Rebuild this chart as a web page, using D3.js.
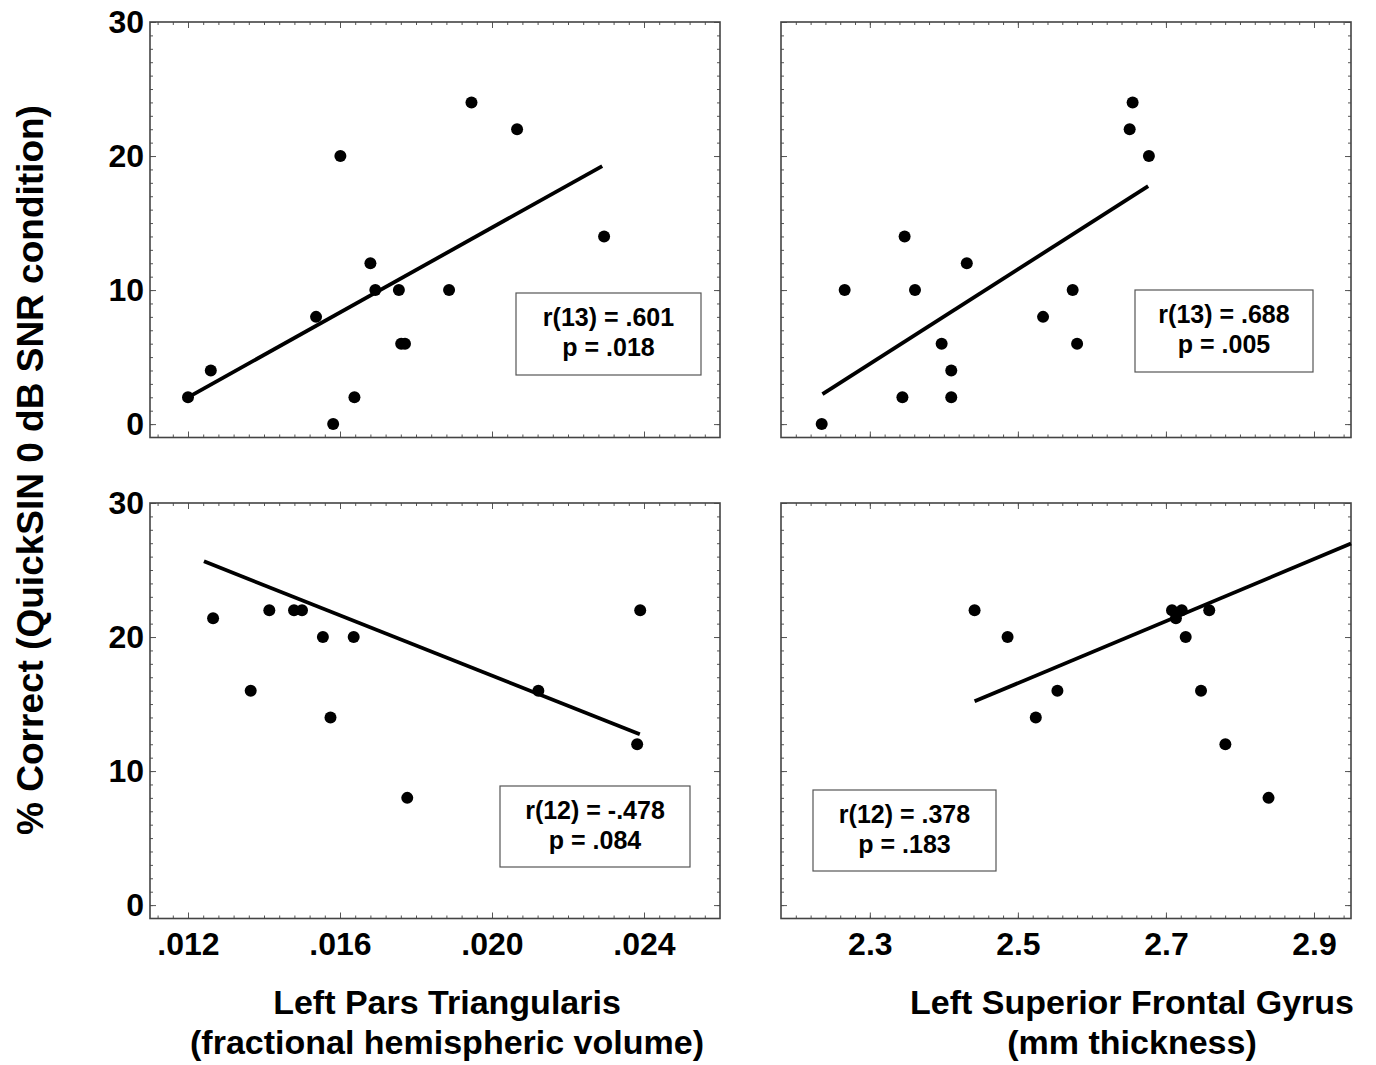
<!DOCTYPE html>
<html>
<head>
<meta charset="utf-8">
<script src="https://cdn.jsdelivr.net/npm/d3@7"></script>
<style>
  body { margin: 0; background: #fff; }
  text { font-family: "Liberation Sans", Arial, sans-serif; font-weight: bold; }
</style>
</head>
<body>
<svg id="chart" width="1376" height="1065"></svg>
<script>
// top row: 15 subjects, bottom row: 14 (some overlap)
var ptX_top = [.0120, .0126, .01537, .01601, .01582, .01638, .0168, .01693, .01755, .01761, .01771, .01887, .01946, .02066, .02295]
var ptY_top = [2, 4, 8, 20, 0, 2, 12, 10, 10, 6, 6, 10, 24, 22, 14]
var sfgX_top = [2.235, 2.266, 2.347, 2.344, 2.361, 2.397, 2.410, 2.410, 2.431, 2.534, 2.574, 2.580, 2.651, 2.655, 2.677]
var sfgY_top = [0, 10, 14, 2, 10, 6, 4, 2, 12, 8, 10, 6, 22, 24, 20]

var ptX_bot = [.01266, .01365, .01414, .01479, .01500, .01555, .01575, .01636, .01777, .02122, .02382, .0239]
var ptY_bot = [21.4, 16, 22, 22, 22, 20, 14, 20, 8, 16, 12, 22]
var sfgX_bot = [2.4415, 2.4861, 2.5242, 2.5534, 2.7082, 2.7214, 2.7135, 2.7267, 2.7585, 2.7474, 2.7803, 2.8386]
var sfgY_bot = [22, 20, 14, 16, 22, 22, 21.4, 20, 22, 16, 12, 8]

// fitted lines as drawn: [x0, y0, x1, y1]
var fitPtTop = [.0120, 2.0, .0229, 19.25]
var fitSfgTop = [2.236, 2.24, 2.676, 17.75]
var fitPtBot = [.01242, 25.65, .02389, 12.74]
var fitSfgBot = [2.4415, 15.2, 2.95, 26.97]

var statR = ["r(13) = .601", "r(13) = .688", "r(12) = -.478", "r(12) = .378"]
var statP = ["p = .018", "p = .005", "p = .084", "p = .183"]

var ptTicks = [.012, .016, .020, .024]
var sfgTicks = [2.3, 2.5, 2.7, 2.9]
var yTicks = [0, 10, 20, 30]

var pw = 570, ph = 415.5

var svg = d3.select("#chart")
svg.append("rect").attr("width", 1376).attr("height", 1065).attr("fill", "white")

var panels = [
    { left: 150, top: 22, xs: ptX_top, ys: ptY_top, fit: fitPtTop, dom: [.011, .026], step: .0004, major: ptTicks, labelsX: false, labelsY: true, box: [366, 271, 185, 82] },
    { left: 781, top: 22, xs: sfgX_top, ys: sfgY_top, fit: fitSfgTop, dom: [2.18, 2.95], step: .02, major: sfgTicks, labelsX: false, labelsY: false, box: [354, 268, 178, 82] },
    { left: 150, top: 503, xs: ptX_bot, ys: ptY_bot, fit: fitPtBot, dom: [.011, .026], step: .0004, major: ptTicks, labelsX: true, labelsY: true, box: [350, 283, 190, 81] },
    { left: 781, top: 503, xs: sfgX_bot, ys: sfgY_bot, fit: fitSfgBot, dom: [2.18, 2.95], step: .02, major: sfgTicks, labelsX: true, labelsY: false, box: [32, 287, 183, 81] }
]

function minorTicks(dom, step) {
    var out = []
    var k0 = Math.ceil(dom[0] / step + 1e-6), k1 = Math.floor(dom[1] / step - 1e-6)
    for (var k = k0; k <= k1; k++) out.push(+(k * step).toFixed(6))
    return out
}

panels.forEach(function (p, i) {
    var g = svg.append("g").attr("transform", "translate(" + p.left + "," + p.top + ")")

    var x = d3.scaleLinear().domain(p.dom).range([0, pw])
    var y = d3.scaleLinear().domain([-1, 30]).range([ph, 0])

    var xMinor = minorTicks(p.dom, p.step)
    var yMinor = d3.range(0, 30)

    function clean(sel) {
        sel.select(".domain").remove()
        sel.attr("color", "#555").attr("font-size", null).attr("font-family", null)
    }

    // minor ticks on all four sides, pointing inward
    g.append("g").attr("transform", "translate(0," + ph + ")")
        .call(d3.axisBottom(x).tickValues(xMinor).tickSize(-3).tickFormat("")).call(clean)
    g.append("g")
        .call(d3.axisTop(x).tickValues(xMinor).tickSize(-3).tickFormat("")).call(clean)
    g.append("g")
        .call(d3.axisLeft(y).tickValues(yMinor).tickSize(-3).tickFormat("")).call(clean)
    g.append("g").attr("transform", "translate(" + pw + ",0)")
        .call(d3.axisRight(y).tickValues(yMinor).tickSize(-3).tickFormat("")).call(clean)

    // major ticks
    var xb = g.append("g").attr("transform", "translate(0," + ph + ")")
        .call(d3.axisBottom(x).tickValues(p.major).tickSize(-6).tickPadding(14)
            .tickFormat(p.dom[0] < 1 ? function (d) { return d3.format(".3f")(d).replace(/^0/, "") } : d3.format(".1f")))
        .call(clean)
    if (!p.labelsX) xb.selectAll("text").remove()
    g.append("g")
        .call(d3.axisTop(x).tickValues(p.major).tickSize(-6).tickFormat("")).call(clean)
    var yl = g.append("g")
        .call(d3.axisLeft(y).tickValues(yTicks).tickSize(-6).tickPadding(6)).call(clean)
    if (!p.labelsY) yl.selectAll("text").remove()
    g.append("g").attr("transform", "translate(" + pw + ",0)")
        .call(d3.axisRight(y).tickValues(yTicks).tickSize(-6).tickFormat("")).call(clean)

    g.selectAll(".tick text")
        .attr("fill", "black")
        .style("font-size", "32px")

    // frame
    g.append("rect")
        .attr("width", pw).attr("height", ph)
        .attr("fill", "none")
        .attr("stroke", "#444")
        .attr("stroke-width", 1.6)

    // fit line
    g.append("line")
        .attr("x1", x(p.fit[0])).attr("y1", y(p.fit[1]))
        .attr("x2", x(p.fit[2])).attr("y2", y(p.fit[3]))
        .attr("stroke", "black")
        .attr("stroke-width", 3.8)

    // points
    g.selectAll(".dot")
        .data(p.xs.map(function (v, j) { return [v, p.ys[j]] }))
        .join("circle")
        .attr("class", "dot")
        .attr("cx", d => x(d[0]))
        .attr("cy", d => y(d[1]))
        .attr("r", 6)
        .attr("fill", "black")

    // stats box
    var b = p.box
    g.append("rect")
        .attr("x", b[0]).attr("y", b[1])
        .attr("width", b[2]).attr("height", b[3])
        .attr("fill", "white")
        .attr("stroke", "#555")
        .attr("stroke-width", 1.2)
    g.append("text")
        .attr("x", b[0] + b[2] / 2).attr("y", b[1] + 33)
        .attr("text-anchor", "middle")
        .style("font-size", "25px")
        .text(statR[i])
    g.append("text")
        .attr("x", b[0] + b[2] / 2).attr("y", b[1] + 63)
        .attr("text-anchor", "middle")
        .style("font-size", "25px")
        .text(statP[i])
})

// axis titles
var xTitles = [
    { cx: 447, lines: ["Left Pars Triangularis", "(fractional hemispheric volume)"] },
    { cx: 1132, lines: ["Left Superior Frontal Gyrus", "(mm thickness)"] }
]
xTitles.forEach(function (t) {
    t.lines.forEach(function (s, k) {
        svg.append("text")
            .attr("x", t.cx)
            .attr("y", 1014 + k * 40)
            .attr("text-anchor", "middle")
            .style("font-size", "34px")
            .text(s)
    })
})

svg.append("text")
    .attr("transform", "translate(43,470) rotate(-90)")
    .attr("text-anchor", "middle")
    .style("font-size", "37px")
    .text("% Correct (QuickSIN 0 dB SNR condition)")
</script>
</body>
</html>
